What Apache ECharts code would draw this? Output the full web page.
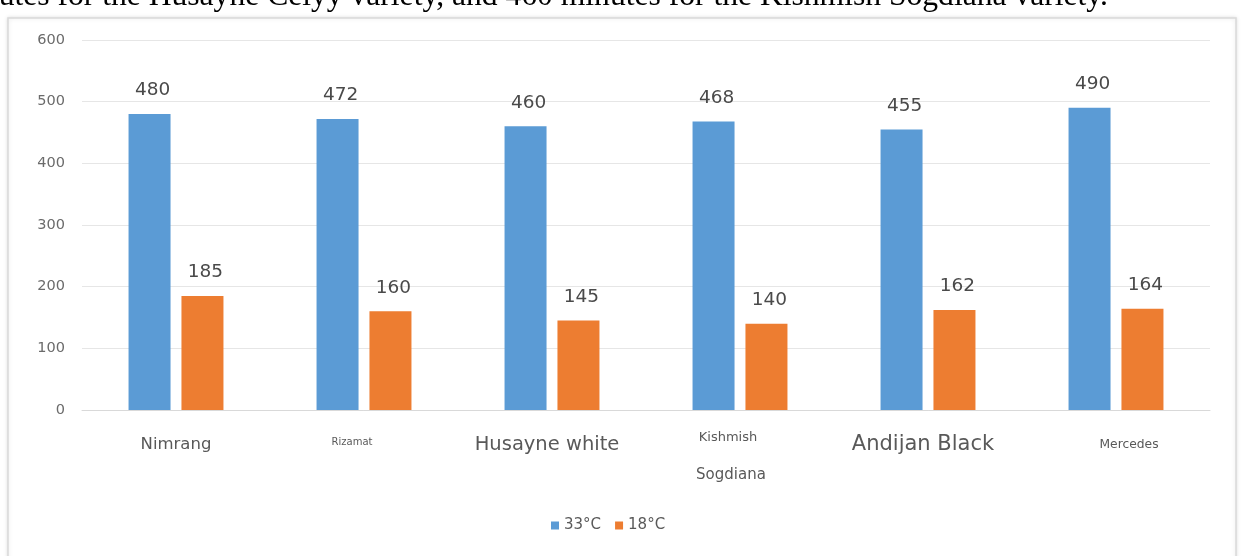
<!DOCTYPE html>
<html>
<head>
<meta charset="utf-8">
<script src="https://cdn.jsdelivr.net/npm/echarts@6/dist/echarts.min.js"></script>
<style>
  html, body { margin: 0; padding: 0; background: #fff; }
  #chart { width: 1242px; height: 556px; }
</style>
</head>
<body>
<div id="chart"></div>
<script>
// varieties on the x axis
var varieties = ['Nimrang', 'Rizamat', 'Husayne white', 'Kishmish\nSogdiana', 'Andijan Black', 'Mercedes'];
// minutes at each temperature
var hot = [480, 472, 460, 468, 455, 490];   // 33°C
var cool = [185, 160, 145, 140, 162, 164];  // 18°C
var seriesNames = ['33°C', '18°C'];
var yTicks = { min: 0, max: 600, step: 100 };

var FONT = '"DejaVu Sans"';
var chart = echarts.init(document.getElementById('chart'));

// the source picture mixes label sizes, keep that
var labelStyle = ['a', 'b', 'c', 'd', 'e', 'f'];

var option = {
  animation: false,
  graphic: [
    {
      type: 'rect',
      shape: { x: 8, y: 18, width: 1228, height: 560 },
      style: { fill: '#fff', stroke: '#d9d9d9', lineWidth: 1.5, shadowBlur: 4, shadowColor: 'rgba(0,0,0,0.12)' },
      z: -10
    },
    {
      type: 'text',
      x: 1108, y: -3,
      style: {
        text: 'utes for the Husayne Celyy variety, and 460 minutes for the Kishmish Sogdiana variety.',
        font: '31.6px "Liberation Serif"',
        fill: '#000',
        textAlign: 'right',
        textVerticalAlign: 'middle'
      }
    }
  ],
  grid: { left: 82, right: 32, top: 40, bottom: 146, containLabel: false },
  legend: {
    data: seriesNames,
    left: 546,
    top: 513,
    itemWidth: 8,
    itemHeight: 8,
    itemGap: 14,
    icon: 'rect',
    textStyle: { color: '#595959', fontSize: 15, fontFamily: FONT }
  },
  xAxis: {
    type: 'category',
    data: varieties,
    axisTick: { show: false },
    axisLine: { lineStyle: { color: '#d9d9d9' } },
    axisLabel: {
      interval: 0,
      margin: 17,
      color: '#595959',
      fontFamily: FONT,
      formatter: function (v, i) {
        if (i === 3) {
          var parts = v.split('\n');
          return '{d|' + parts[0] + '}\n{d2|' + parts[1] + '}';
        }
        return '{' + labelStyle[i] + '|' + v + '}';
      },
      rich: {
        a: { fontSize: 16.5, lineHeight: 36, color: '#595959', fontFamily: FONT },
        b: { fontSize: 10, lineHeight: 30, color: '#595959', fontFamily: FONT, padding: [0, 24, 0, 0] },
        c: { fontSize: 19.5, lineHeight: 36, color: '#595959', fontFamily: FONT, padding: [0, 10, 0, 0] },
        d: { fontSize: 13, lineHeight: 22, color: '#595959', fontFamily: FONT, padding: [0, 24, 0, 0] },
        d2: { fontSize: 15, lineHeight: 52, color: '#595959', fontFamily: FONT, padding: [0, 18, 0, 0] },
        e: { fontSize: 21, lineHeight: 36, color: '#595959', fontFamily: FONT, padding: [0, 10, 0, 0] },
        f: { fontSize: 12.3, lineHeight: 36, color: '#595959', fontFamily: FONT, padding: [0, 0, 0, 26] }
      }
    }
  },
  yAxis: {
    type: 'value',
    min: yTicks.min,
    max: yTicks.max,
    interval: yTicks.step,
    axisLine: { show: false },
    axisTick: { show: false },
    splitLine: { lineStyle: { color: '#e6e6e6' } },
    axisLabel: { color: '#6b6b6b', fontSize: 14.5, margin: 17, fontFamily: FONT }
  },
  series: [
    {
      name: seriesNames[0],
      type: 'bar',
      data: hot,
      barWidth: 42,
      barGap: '26%',
      itemStyle: { color: '#5B9BD5' },
      label: { show: true, position: 'top', distance: 14, fontSize: 18.5, color: '#4a4a4a', fontFamily: FONT, offset: [3, 0] }
    },
    {
      name: seriesNames[1],
      type: 'bar',
      data: cool,
      barWidth: 42,
      itemStyle: { color: '#ED7D31' },
      label: { show: true, position: 'top', distance: 14, fontSize: 18.5, color: '#4a4a4a', fontFamily: FONT, offset: [3, 0] }
    }
  ]
};

chart.setOption(option);
</script>
</body>
</html>
